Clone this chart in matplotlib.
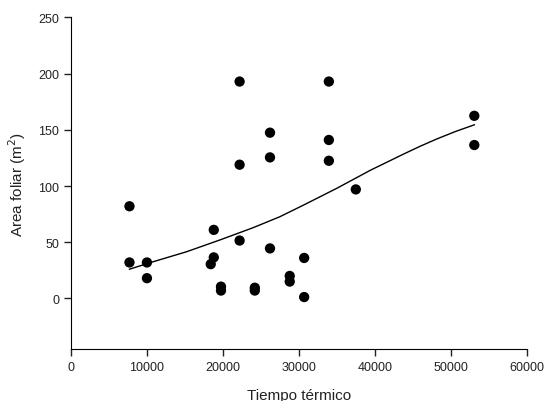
import matplotlib
matplotlib.use('Agg')
import matplotlib.pyplot as plt

plt.rcParams['font.family'] = ['Liberation Sans', 'DejaVu Sans']

# observed points (thermal time vs leaf area)
tiempo = [7700, 7700, 10000, 10000, 18400, 18800, 18800, 19750, 19750,
          22200, 22200, 22200, 24200, 24200, 26200, 26200, 26200,
          28800, 28800, 30700, 30700, 33950, 33950, 33950, 37500,
          53100, 53100]
area = [82, 32, 32, 18, 30.5, 61, 36.5, 10.5, 7, 193, 119, 51.5,
        9.5, 7, 147.5, 125.5, 44.5, 20, 15, 36, 1.2, 193, 141, 122.5,
        97, 162.5, 136.5]

# fitted curve
curva_x = [7700, 10800, 15200, 19600, 24000, 27500, 30600, 35000,
           39400, 43800, 46000, 48200, 50600, 53100]
curva_y = [26, 32.6, 41.5, 52, 63, 72.7, 83, 98, 114, 128.5, 135.5,
           142, 148.5, 154.5]

fig = plt.figure(figsize=(5.49, 4.02), dpi=100)
ax = fig.add_axes([0.1293, 0.1294, 0.8301, 0.8246])

ax.plot(curva_x, curva_y, color='black', lw=1.0, zorder=2)
ax.scatter(tiempo, area, s=55, color='black', edgecolors='none', zorder=3)

ax.set_xlim(0, 60000)
ax.set_ylim(-45, 250)
ax.set_xticks([0, 10000, 20000, 30000, 40000, 50000, 60000])
ax.set_yticks([0, 50, 100, 150, 200, 250])
ax.spines['top'].set_visible(False)
ax.spines['right'].set_visible(False)
ax.tick_params(direction='out', length=5, width=1, labelsize=9,
               colors='#222222')
ax.set_xlabel('Tiempo térmico', fontsize=11, color='#222222', labelpad=11)
ax.set_ylabel('Area foliar (m$^2$)', fontsize=11, color='#222222', labelpad=7)

fig.savefig('out.png', dpi=100)
